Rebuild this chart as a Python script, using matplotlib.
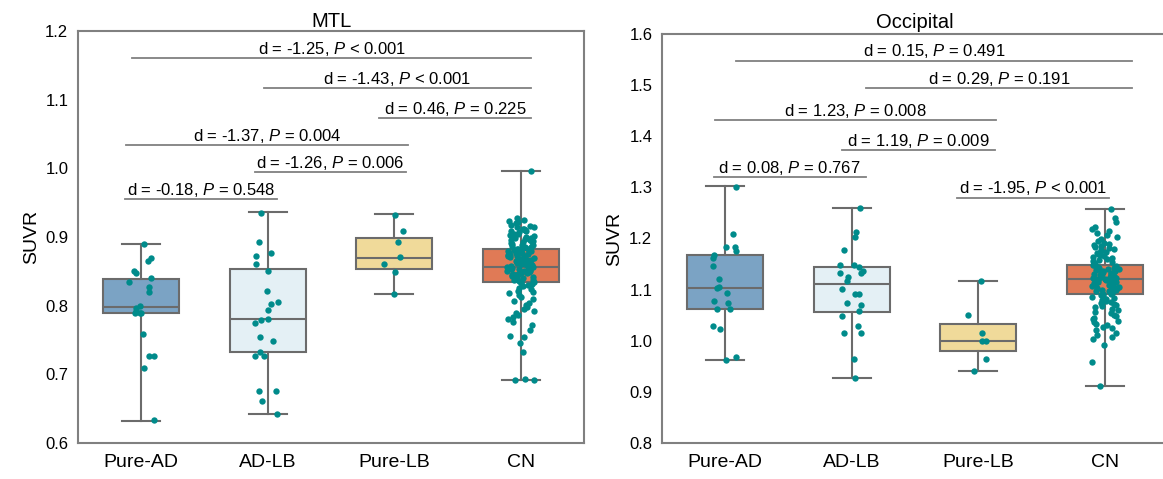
import numpy as np
import matplotlib
matplotlib.use("Agg")
import matplotlib.pyplot as plt

plt.rcParams['font.family'] = ['Liberation Sans', 'DejaVu Sans']
plt.rcParams['mathtext.fontset'] = 'custom'
plt.rcParams['mathtext.rm'] = 'Liberation Sans'
plt.rcParams['mathtext.it'] = 'Liberation Sans:italic'

groups = ["Pure-AD", "AD-LB", "Pure-LB", "CN"]
box_colors = ["#7ba3c4", "#e4f0f5", "#f0da9a", "#e07a56"]

# box stats: whislo, q1, med, q3, whishi
mtl_stats = [
    [0.632, 0.789, 0.798, 0.839, 0.890],
    [0.642, 0.733, 0.780, 0.853, 0.936],
    [0.817, 0.854, 0.870, 0.899, 0.933],
    [0.692, 0.835, 0.857, 0.883, 0.996],
]
occ_stats = [
    [0.963, 1.063, 1.104, 1.167, 1.302],
    [0.928, 1.056, 1.110, 1.145, 1.260],
    [0.941, 0.980, 1.000, 1.032, 1.117],
    [0.911, 1.091, 1.120, 1.149, 1.257],
]

# individual points
mtl_pure_ad = [0.890, 0.870, 0.865, 0.850, 0.848, 0.840, 0.834, 0.827, 0.820, 0.799,
               0.797, 0.792, 0.790, 0.790, 0.789, 0.758, 0.726, 0.726, 0.709, 0.633]
mtl_ad_lb = [0.935, 0.892, 0.877, 0.873, 0.861, 0.850, 0.822, 0.806, 0.803, 0.794, 0.781,
             0.779, 0.775, 0.754, 0.749, 0.733, 0.727, 0.727, 0.675, 0.675, 0.661, 0.642]
mtl_pure_lb = [0.932, 0.908, 0.892, 0.871, 0.860, 0.849, 0.817]
mtl_cn = [0.996,
          0.927, 0.925, 0.924, 0.922, 0.921, 0.918, 0.916, 0.915, 0.914, 0.912, 0.911,
          0.910, 0.909, 0.908, 0.907, 0.905, 0.904, 0.903, 0.902, 0.901, 0.900,
          0.899, 0.898, 0.897, 0.896, 0.895, 0.894, 0.893, 0.892, 0.891, 0.890, 0.889,
          0.888, 0.887, 0.886, 0.885, 0.884, 0.883, 0.882, 0.881, 0.880, 0.879, 0.878,
          0.877, 0.876, 0.875, 0.874, 0.873, 0.872, 0.871, 0.870, 0.869, 0.868, 0.867,
          0.866, 0.865, 0.864, 0.863, 0.862, 0.861, 0.860, 0.859, 0.858, 0.857, 0.857,
          0.856, 0.855, 0.854, 0.853, 0.852, 0.851, 0.850, 0.849, 0.848, 0.847, 0.846,
          0.845, 0.844, 0.843, 0.842, 0.841, 0.840, 0.839, 0.838, 0.837, 0.836, 0.835,
          0.834, 0.833, 0.832, 0.830, 0.828, 0.826, 0.824, 0.822, 0.820, 0.818, 0.815,
          0.812, 0.810, 0.807, 0.804, 0.801, 0.798, 0.795, 0.792, 0.789, 0.786, 0.783,
          0.780, 0.776, 0.772, 0.765, 0.756, 0.754, 0.745, 0.733, 0.693, 0.692, 0.692,
          0.868, 0.872, 0.861, 0.855, 0.877, 0.846, 0.883, 0.851, 0.866, 0.874]

occ_pure_ad = [1.301, 1.208, 1.184, 1.184, 1.175, 1.167, 1.162, 1.146, 1.120, 1.105,
               1.104, 1.094, 1.078, 1.073, 1.063, 1.063, 1.029, 1.022, 0.968, 0.962]
occ_ad_lb = [1.260, 1.212, 1.203, 1.177, 1.149, 1.148, 1.145, 1.136, 1.133, 1.132, 1.125,
             1.117, 1.102, 1.091, 1.091, 1.073, 1.069, 1.058, 1.048, 1.029, 1.016, 1.015,
             0.964, 0.928]
occ_pure_lb = [1.117, 1.050, 1.016, 1.000, 1.000, 0.964, 0.941]
occ_cn = [1.257, 1.240, 1.233, 1.222, 1.218, 1.215, 1.210, 1.206, 1.202, 1.198, 1.195,
          1.192, 1.190, 1.188, 1.186, 1.184, 1.182, 1.180, 1.178, 1.176, 1.174, 1.172,
          1.170, 1.168, 1.166, 1.164, 1.162, 1.160, 1.158, 1.156, 1.154, 1.152, 1.150,
          1.149, 1.148, 1.146, 1.145, 1.143, 1.142, 1.140, 1.139, 1.137, 1.136, 1.134,
          1.133, 1.131, 1.130, 1.128, 1.127, 1.125, 1.124, 1.122, 1.121, 1.120, 1.120,
          1.119, 1.118, 1.116, 1.115, 1.113, 1.112, 1.110, 1.109, 1.107, 1.106, 1.104,
          1.103, 1.101, 1.100, 1.098, 1.097, 1.095, 1.094, 1.092, 1.091, 1.090, 1.088,
          1.086, 1.084, 1.082, 1.080, 1.078, 1.076, 1.074, 1.072, 1.070, 1.068, 1.066,
          1.063, 1.060, 1.057, 1.054, 1.051, 1.048, 1.045, 1.042, 1.039, 1.036, 1.033,
          1.030, 1.027, 1.024, 1.020, 1.016, 1.012, 1.008, 1.003, 0.992, 0.959, 0.911,
          1.128, 1.117, 1.135, 1.108, 1.141, 1.123, 1.099, 1.114, 1.131, 1.104]

# comparison brackets: (x start, x end, y, label)
mtl_pairs = [
    (-0.07, 3.08, 1.161, r"d = -1.25, $P$ < 0.001"),
    (0.97, 3.08, 1.1165, r"d = -1.43, $P$ < 0.001"),
    (1.88, 3.08, 1.073, r"d = 0.46, $P$ = 0.225"),
    (-0.12, 2.11, 1.034, r"d = -1.37, $P$ = 0.004"),
    (0.90, 2.09, 0.994, r"d = -1.26, $P$ = 0.006"),
    (-0.13, 1.07, 0.955, r"d = -0.18, $P$ = 0.548"),
]
occ_pairs = [
    (0.085, 3.215, 1.548, r"d = 0.15, $P$ = 0.491"),
    (1.113, 3.215, 1.494, r"d = 0.29, $P$ = 0.191"),
    (-0.081, 2.14, 1.431, r"d = 1.23, $P$ = 0.008"),
    (0.92, 2.13, 1.373, r"d = 1.19, $P$ = 0.009"),
    (-0.089, 1.109, 1.320, r"d = 0.08, $P$ = 0.767"),
    (1.834, 3.034, 1.280, r"d = -1.95, $P$ < 0.001"),
]

rng = np.random.default_rng(7)
edge = "#6b6b6b"


def draw_panel(ax, stats, points, pairs, title, ylim, yticks, title_pad):
    bstats = []
    for s, g in zip(stats, groups):
        bstats.append(dict(whislo=s[0], q1=s[1], med=s[2], q3=s[3], whishi=s[4],
                           fliers=[], label=g))
    bp = ax.bxp(bstats, positions=range(4), widths=0.6, patch_artist=True,
                showfliers=False,
                boxprops=dict(edgecolor=edge, linewidth=1.5),
                medianprops=dict(color=edge, linewidth=1.5),
                whiskerprops=dict(color=edge, linewidth=1.5),
                capprops=dict(color=edge, linewidth=1.5))
    for patch, c in zip(bp['boxes'], box_colors):
        patch.set_facecolor(c)

    for i, vals in enumerate(points):
        spread = 0.11 if len(vals) > 50 else 0.1
        xs = i + rng.uniform(-spread, spread, len(vals))
        ax.scatter(xs, vals, s=21, color="#008b8b", zorder=5, linewidths=0)

    for x1, x2, y, label in pairs:
        ax.plot([x1, x2], [y, y], color="#808080", lw=1.3)
        ax.annotate(label, xy=((x1 + x2) / 2, y), xytext=(0, 3),
                    textcoords="offset points", ha="center", va="baseline",
                    fontsize=12)

    ax.set_xlim(-0.5, 3.5)
    ax.set_ylim(*ylim)
    ax.set_yticks(yticks)
    ax.set_yticklabels([f"{t:.1f}" for t in yticks])
    ax.set_xticks(range(4))
    ax.set_xticklabels(groups)
    ax.tick_params(axis='x', length=0, pad=8, labelsize=14)
    ax.tick_params(axis='y', length=0, pad=7, labelsize=12)
    ax.set_ylabel("SUVR", fontsize=14)
    ax.set_title(title, fontsize=14.5, pad=title_pad)
    for sp in ax.spines.values():
        sp.set_color("#808080")
        sp.set_linewidth(1.5)


fig = plt.figure(figsize=(11.63, 4.79), dpi=100)
ax1 = fig.add_axes([0.0671, 0.0752, 0.4351, 0.8601])
ax2 = fig.add_axes([0.5692, 0.0752, 0.4351, 0.8539])

draw_panel(ax1, mtl_stats, [mtl_pure_ad, mtl_ad_lb, mtl_pure_lb, mtl_cn], mtl_pairs,
           "MTL", (0.6, 1.2), np.round(np.arange(0.6, 1.21, 0.1), 1), 3)
draw_panel(ax2, occ_stats, [occ_pure_ad, occ_ad_lb, occ_pure_lb, occ_cn], occ_pairs,
           "Occipital", (0.8, 1.6), np.round(np.arange(0.8, 1.61, 0.1), 1), 4)

fig.savefig("out.png", dpi=100)
